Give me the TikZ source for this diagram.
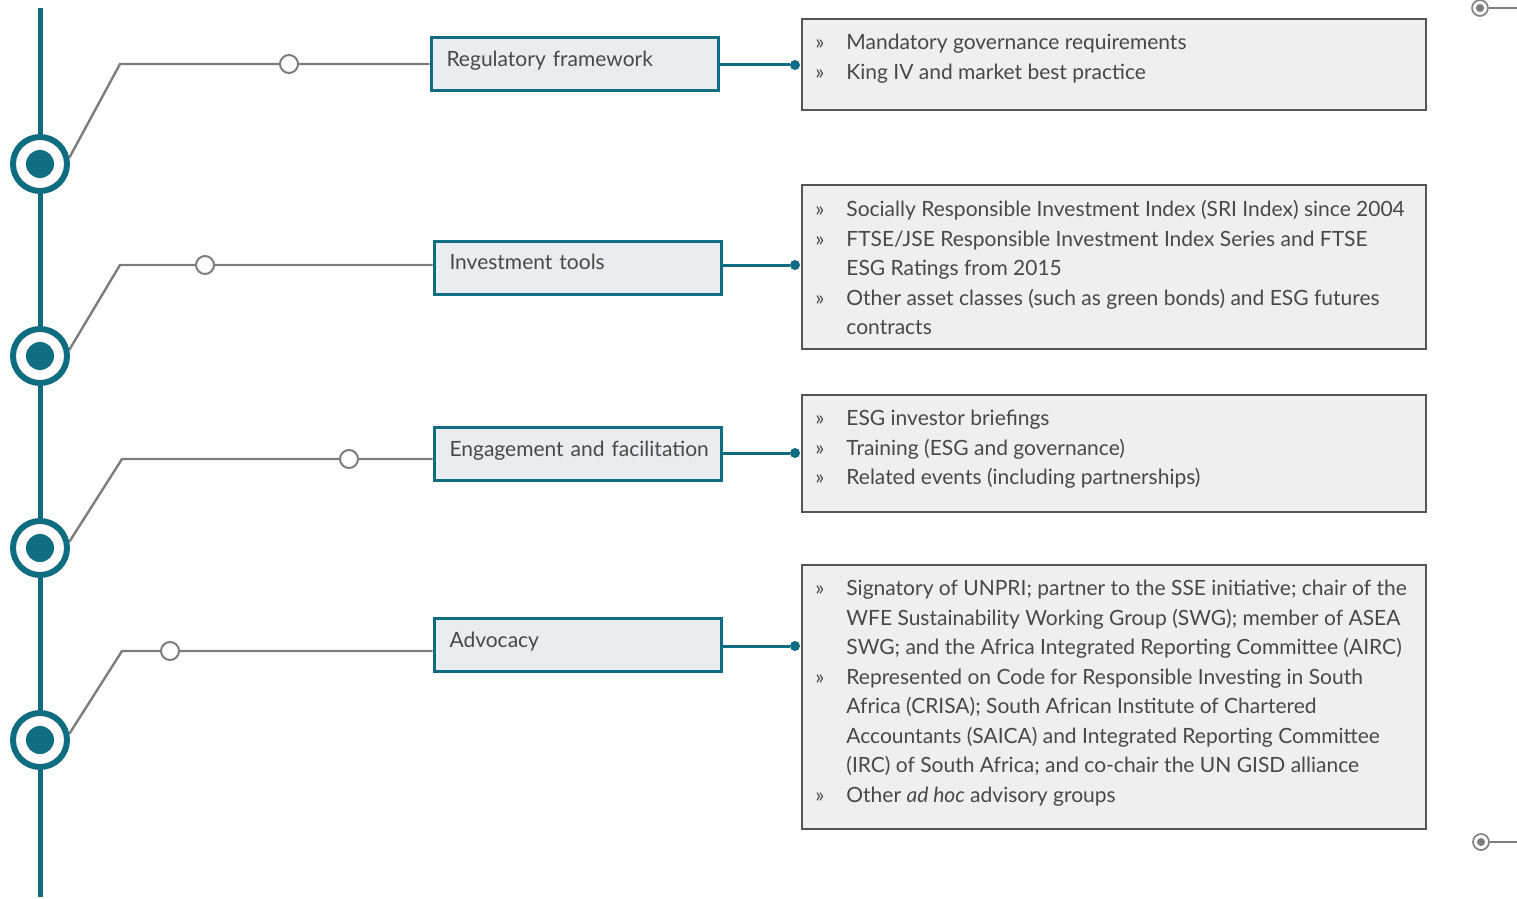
\documentclass[tikz,border=0pt]{standalone}
\usepackage{fontspec}
\setmainfont{Lato}
\usetikzlibrary{positioning,backgrounds}

\definecolor{tealline}{RGB}{16,108,128}
\definecolor{greyline}{RGB}{125,125,125}
\definecolor{textgrey}{RGB}{72,72,72}
\definecolor{labelfill}{RGB}{233,237,240}
\definecolor{itemfill}{RGB}{239,239,239}
\definecolor{itemborder}{RGB}{85,85,85}

\newcommand{\itm}{\makebox[15.5pt][l]{»}}
\newcommand{\cnt}{\hspace*{15.5pt}}

\tikzset{
  bigring/.style={circle, draw=tealline, line width=3pt, fill=white, minimum size=27pt, inner sep=0pt},
  bigcore/.style={circle, fill=tealline, minimum size=14pt, inner sep=0pt},
  smallring/.style={circle, draw=greyline, line width=1pt, fill=white, minimum size=9pt, inner sep=0pt},
  enddot/.style={circle, fill=tealline, minimum size=5pt, inner sep=0pt},
  target/.style={circle, draw=greyline, line width=0.8pt, fill=white, minimum size=8pt, inner sep=0pt},
  targetcore/.style={circle, fill=greyline, minimum size=4pt, inner sep=0pt},
  labelbox/.style={draw=tealline, line width=1.5pt, fill=labelfill, minimum width=143.5pt, minimum height=26.5pt,
    text width=128pt, align=left, inner xsep=7.5pt, inner ysep=4pt, text depth=6pt, text height=8pt, text=textgrey,
    font=\fontsize{10.5}{13}\selectfont},
  itembox/.style={draw=itemborder, line width=0.8pt, fill=itemfill, minimum width=312pt, inner sep=0pt},
  itemtext/.style={anchor=north west, align=left, inner sep=0pt, text=textgrey,
    font=\fontsize{10.5}{14.75}\selectfont},
  greylink/.style={draw=greyline, line width=1.2pt},
  teallink/.style={draw=tealline, line width=1.5pt},
}

\begin{document}
\begin{tikzpicture}[x=0.5pt, y=-0.5pt]
  \useasboundingbox (0,0) rectangle (1517,899);

  % timeline
  \coordinate (ttop) at (40,8);
  \coordinate (tbot) at (40,897);
  \draw[tealline, line width=2.5pt] (ttop) -- (tbot);

  \node[bigring] (c1) at (40,164) {};
  \node[bigring] (c2) at (40,356) {};
  \node[bigring] (c3) at (40,548) {};
  \node[bigring] (c4) at (40,740) {};
  \node[bigcore] at (c1) {};
  \node[bigcore] at (c2) {};
  \node[bigcore] at (c3) {};
  \node[bigcore] at (c4) {};

  % labels
  \node[labelbox] (lb1) at (574.5,64.5) {Regulatory framework};
  \node[labelbox] (lb2) at (577.5,268) {Investment tools};
  \node[labelbox] (lb3) at (577.5,454) {\mbox{Engagement and facilitation}};
  \node[labelbox] (lb4) at (577.5,645) {Advocacy};

  % grey links
  \coordinate (k1) at (120,64);
  \coordinate (k2) at (120,265);
  \coordinate (k3) at (122,459);
  \coordinate (k4) at (122,651);
  \begin{scope}[on background layer]
    \draw[greylink] (c1.12) -- (k1) -- (k1 -| lb1.west);
    \draw[greylink] (c2.12) -- (k2) -- (k2 -| lb2.west);
    \draw[greylink] (c3.12) -- (k3) -- (k3 -| lb3.west);
    \draw[greylink] (c4.12) -- (k4) -- (k4 -| lb4.west);
  \end{scope}
  \node[smallring] (s1) at (289,64) {};
  \node[smallring] (s2) at (205,265) {};
  \node[smallring] (s3) at (349,459) {};
  \node[smallring] (s4) at (170,651) {};

  % item boxes
  \node[itembox, anchor=north west, minimum height=45.5pt] (ib1) at (801,18) {};
  \node[itembox, anchor=north west, minimum height=82pt] (ib2) at (801,184) {};
  \node[itembox, anchor=north west, minimum height=58.5pt] (ib3) at (801,394) {};
  \node[itembox, anchor=north west, minimum height=132pt] (ib4) at (801,564) {};

  % teal links
  \node[enddot] (d1) at (795,65) {};
  \node[enddot] (d2) at (795,265) {};
  \node[enddot] (d3) at (795,453) {};
  \node[enddot] (d4) at (795,646) {};
  \draw[teallink] (d1 -| lb1.east) -- (d1);
  \draw[teallink] (d2 -| lb2.east) -- (d2);
  \draw[teallink] (d3 -| lb3.east) -- (d3);
  \draw[teallink] (d4 -| lb4.east) -- (d4);

  % item texts
  \node[itemtext, below right=8pt and 7pt of ib1.north west] (t1) {%
    \itm Mandatory governance requirements\\
    \itm King IV and market best practice};
  \node[itemtext, below right=8pt and 7pt of ib2.north west] (t2) {%
    \itm Socially Responsible Investment Index (SRI Index) since 2004\\
    \itm FTSE/JSE Responsible Investment Index Series and FTSE\\
    \cnt ESG Ratings from 2015\\
    \itm Other asset classes (such as green bonds) and ESG futures\\
    \cnt contracts};
  \node[itemtext, below right=8pt and 7pt of ib3.north west] (t3) {%
    \itm ESG investor briefings\\
    \itm Training (ESG and governance)\\
    \itm Related events (including partnerships)};
  \node[itemtext, below right=8pt and 7pt of ib4.north west] (t4) {%
    \itm Signatory of UNPRI; partner to the SSE initiative; chair of the\\
    \cnt WFE Sustainability Working Group (SWG); member of ASEA\\
    \cnt SWG; and the Africa Integrated Reporting Committee (AIRC)\\
    \itm Represented on Code for Responsible Investing in South\\
    \cnt Africa (CRISA); South African Institute of Chartered\\
    \cnt Accountants (SAICA) and Integrated Reporting Committee\\
    \cnt (IRC) of South Africa; and co-chair the UN GISD alliance\\
    \itm Other \textit{ad hoc} advisory groups};

  % page markers
  \node[target] (g1) at (1480,8) {};
  \node[targetcore] at (g1) {};
  \coordinate (e1) at (1517,8);
  \draw[greyline, line width=0.8pt] (g1) -- (e1);
  \node[target] (g2) at (1481,842) {};
  \node[targetcore] at (g2) {};
  \coordinate (e2) at (1517,842);
  \draw[greyline, line width=0.8pt] (g2) -- (e2);
\end{tikzpicture}
\end{document}
